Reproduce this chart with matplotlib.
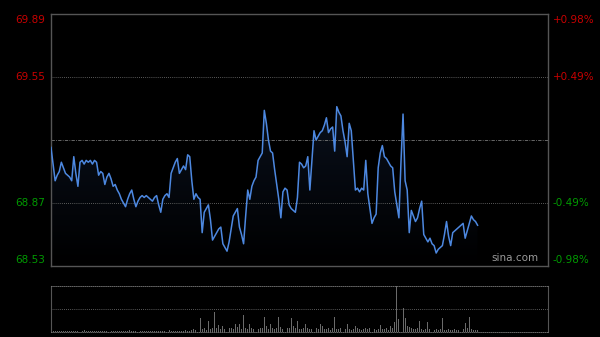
import matplotlib
matplotlib.use("Agg")
import matplotlib.pyplot as plt
import numpy as np

# intraday price, one value per minute
prices = [
    69.17, 69.08, 68.99, 69.02, 69.04, 69.09, 69.06, 69.03, 69.02, 69.01,
    68.99, 69.12, 69.03, 68.96, 69.09, 69.10, 69.08, 69.10, 69.09, 69.10,
    69.08, 69.10, 69.09, 69.02, 69.04, 69.03, 68.97, 69.01, 69.03, 69.00,
    68.96, 68.97, 68.94, 68.92, 68.89, 68.87, 68.85, 68.89, 68.92, 68.94,
    68.89, 68.85, 68.88, 68.90, 68.91, 68.90, 68.91, 68.90, 68.89, 68.88,
    68.90, 68.91, 68.86, 68.82, 68.89, 68.91, 68.92, 68.90, 69.03, 69.06,
    69.09, 69.11, 69.03, 69.05, 69.07, 69.05, 69.13, 69.12, 68.99, 68.89,
    68.92, 68.90, 68.89, 68.71, 68.82, 68.84, 68.86, 68.78, 68.67, 68.69,
    68.71, 68.73, 68.74, 68.65, 68.63, 68.61, 68.66, 68.73, 68.80, 68.82,
    68.84, 68.74, 68.70, 68.65, 68.80, 68.94, 68.89, 68.96, 68.99, 69.01,
    69.10, 69.12, 69.14, 69.37, 69.30, 69.21, 69.15, 69.14, 69.05, 68.97,
    68.89, 68.79, 68.93, 68.95, 68.94, 68.86, 68.84, 68.83, 68.82, 68.90,
    69.09, 69.08, 69.06, 69.07, 69.12, 68.94, 69.10, 69.26, 69.21, 69.23,
    69.25, 69.26, 69.29, 69.33, 69.25, 69.27, 69.28, 69.15, 69.39, 69.36,
    69.34, 69.26, 69.20, 69.12, 69.30, 69.26, 69.10, 68.94, 68.95, 68.93,
    68.95, 68.94, 69.10, 68.92, 68.84, 68.76, 68.79, 68.81, 69.06, 69.14,
    69.18, 69.12, 69.11, 69.09, 69.07, 69.06, 68.93, 68.86, 68.79, 69.09,
    69.35, 68.99, 68.94, 68.71, 68.83, 68.80, 68.77, 68.79, 68.84, 68.88,
    68.70, 68.68, 68.66, 68.68, 68.65, 68.64, 68.60, 68.62, 68.63, 68.64,
    68.70, 68.77, 68.69, 68.64, 68.71, 68.72, 68.73, 68.74, 68.75, 68.76,
    68.68, 68.72, 68.76, 68.80, 68.78, 68.77, 68.75,
]

# volume, relative units (max = 100)
volumes = [
    4, 3, 2, 3, 2, 2, 3, 2, 2, 3,
    2, 3, 2, 2, 3, 2, 4, 3, 2, 2,
    3, 2, 2, 2, 3, 2, 2, 3, 4, 3,
    2, 2, 3, 2, 2, 3, 3, 2, 4, 3,
    2, 2, 3, 2, 2, 2, 3, 2, 2, 3,
    2, 2, 3, 2, 2, 2, 3, 4, 3, 2,
    2, 3, 2, 2, 3, 4, 3, 2, 5, 6,
    4, 3, 30, 6, 8, 5, 25, 7, 9, 43,
    8, 15, 6, 14, 7, 16, 9, 8, 6, 17,
    10, 18, 7, 36, 9, 6, 17, 8, 7, 10,
    6, 8, 9, 33, 12, 7, 18, 8, 6, 9,
    33, 10, 7, 6, 8, 9, 30, 12, 8, 25,
    7, 6, 9, 18, 8, 6, 7, 20, 9, 6,
    18, 13, 7, 6, 8, 5, 9, 32, 7, 6,
    8, 15, 6, 18, 7, 5, 6, 14, 8, 6,
    5, 7, 9, 6, 8, 41, 7, 5, 6, 15,
    7, 6, 8, 5, 14, 9, 22, 100, 28, 52,
    52, 30, 14, 10, 8, 6, 7, 9, 25, 6,
    5, 7, 22, 6, 5, 4, 6, 5, 7, 30,
    5, 4, 6, 5, 4, 6, 5, 4, 7, 6,
    20, 8, 33, 6, 5, 5, 4,
]

prev_close = 69.21
y_ticks = [68.53, 68.87, 69.55, 69.89]
pct_labels = ["-0.98%", "-0.49%", "+0.49%", "+0.98%"]
n_total = 241

bg = "black"
frame = "#555555"
grid = "#777777"
line_col = "#4d88e0"
red = "#c80000"
green = "#009a00"

fig = plt.figure(figsize=(6.0, 3.37), dpi=100, facecolor=bg)
ax = fig.add_axes([51 / 600, 1 - 266 / 337, 497 / 600, 252 / 337], facecolor=bg)
axv = fig.add_axes([51 / 600, 1 - 332 / 337, 497 / 600, 46 / 337], facecolor=bg)

x = np.arange(len(prices))
p = np.array(prices)

ax.set_xlim(0, n_total - 1)
ax.set_ylim(y_ticks[0], y_ticks[-1])

# gradient fill under the line
ymin, ymax = y_ticks[0], y_ticks[-1]
grad = np.linspace(0, 1, 256).reshape(-1, 1)
cmap = matplotlib.colors.LinearSegmentedColormap.from_list("fillc", ["#000000", "#0f192c"])
img = ax.imshow(grad, extent=[0, n_total - 1, ymin, ymax], origin="lower",
                aspect="auto", cmap=cmap, zorder=1)
clip = plt.Polygon(np.vstack([[0, ymin], np.column_stack([x, p]), [x[-1], ymin]]),
                   closed=True, transform=ax.transData, facecolor="none", edgecolor="none")
ax.add_patch(clip)
img.set_clip_path(clip)

ax.plot(x, p, color=line_col, lw=1.1, zorder=3)

for yv in [y_ticks[1], y_ticks[2]]:
    ax.axhline(yv, color=grid, lw=0.6, ls=(0, (1, 1.5)), zorder=2)
ax.axhline(prev_close, color=grid, lw=0.6, ls=(0, (4, 1.5, 1, 1.5)), zorder=2)

ax.set_xticks([])
ax.set_yticks([])
for s in ax.spines.values():
    s.set_color(frame)
    s.set_linewidth(1.0)

# price labels left, percent labels right
label_pos = [ymin + 0.03, y_ticks[1], y_ticks[2], ymax - 0.03]
for yl, v, pc in zip(label_pos, y_ticks, pct_labels):
    c = red if v > prev_close else green
    ax.text(-0.012, yl, f"{v:.2f}", transform=ax.get_yaxis_transform(),
            ha="right", va="center", color=c, fontsize=7.5)
    ax.text(1.01, yl, pc, transform=ax.get_yaxis_transform(),
            ha="left", va="center", color=c, fontsize=7.5)

ax.text(0.98, 0.01, "sina.com", transform=ax.transAxes, ha="right", va="bottom",
        color="#9a9a9a", fontsize=7.5)

# volume panel
axv.bar(np.arange(len(volumes)), volumes, width=0.45, color="#6a6a6a", lw=0)
axv.set_xlim(0, n_total - 1)
axv.set_ylim(0, 100)
axv.axhline(50, color=grid, lw=0.6, ls=(0, (1, 1.5)))
axv.set_xticks([])
axv.set_yticks([])
for k in ["left", "right"]:
    axv.spines[k].set_color(frame)
for k in ["top", "bottom"]:
    axv.spines[k].set_color(grid)
    axv.spines[k].set_linestyle((0, (1, 1.5)))
    axv.spines[k].set_linewidth(0.6)

fig.savefig("out.png", dpi=100, facecolor=bg)
